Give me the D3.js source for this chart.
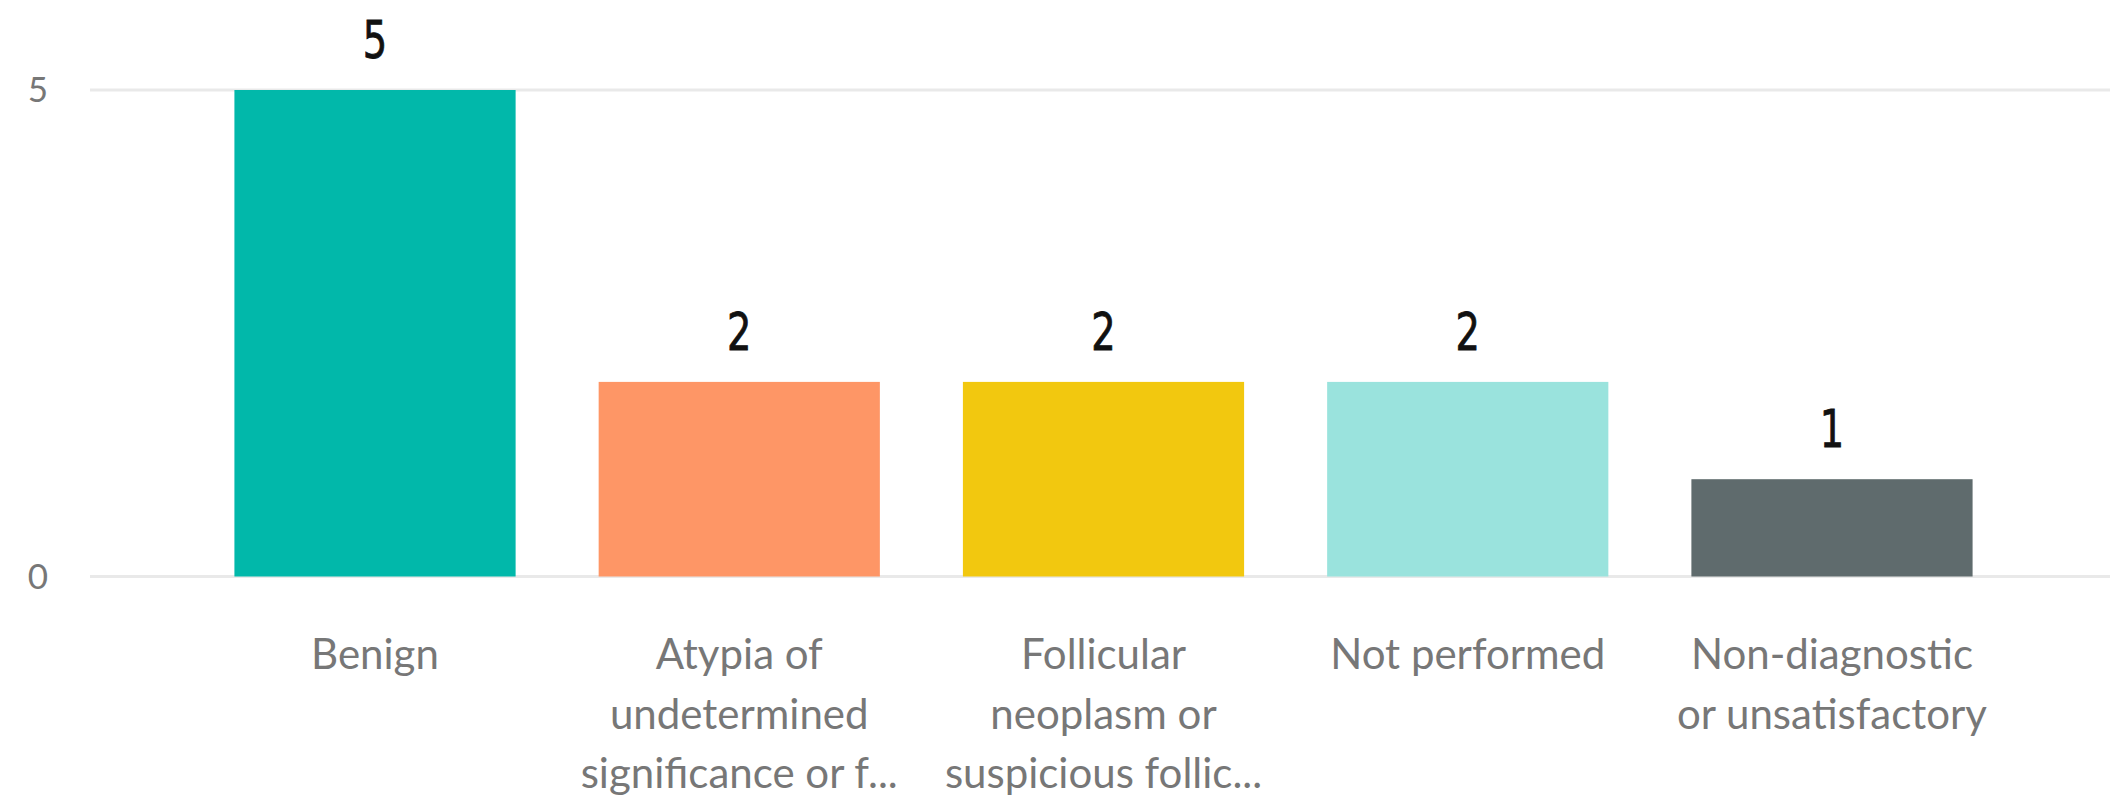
<!DOCTYPE html>
<html>
<head>
<meta charset="utf-8">
<script src="https://cdn.jsdelivr.net/npm/d3@7"></script>
<style>
    html, body { margin: 0; padding: 0; background: #fff; overflow: hidden; }
    .grid line { stroke: #e9e9e9; stroke-width: 3; }
    .ytick { font-family: "Segoe UI", Lato, sans-serif; font-size: 35px; fill: #777; }
    .xtick { font-family: "Segoe UI", Lato, sans-serif; font-size: 42px; fill: #777; }
    .vlabel { font-family: DIN, "Liberation Sans Narrow", "DejaVu Sans Condensed", sans-serif; font-size: 52px; fill: #111; stroke: #111; stroke-width: 0.8px; }
</style>
</head>
<body>
<script>
// chart data
var categories = ["Benign", "Atypia", "Follicular", "Not performed", "Non-diagnostic"];
var counts = [5, 2, 2, 2, 1];
var barColors = ["#01B8AA", "#FE9666", "#F2C80F", "#9AE3DD", "#5F6B6D"];
// axis label text as shown (wrapped / truncated)
var tickLines = [
    ["Benign"],
    ["Atypia of", "undetermined", "significance or f..."],
    ["Follicular", "neoplasm or", "suspicious follic..."],
    ["Not performed"],
    ["Non-diagnostic", "or unsatisfactory"]
];
var yTicks = [0, 5];

var W = 2110, H = 805;

var svg = d3.select("body").append("svg")
    .attr("width", W)
    .attr("height", H);

var x = d3.scaleBand()
    .domain(categories)
    .range([96, 2111])
    .paddingInner(0.228)
    .paddingOuter(0.38);

var y = d3.scaleLinear()
    .domain([0, 5])
    .range([576.5, 90]);

// gridlines
svg.append("g")
    .attr("class", "grid")
    .selectAll("line")
    .data(yTicks)
    .enter()
    .append("line")
    .attr("x1", 90)
    .attr("x2", W)
    .attr("y1", function (d) { return y(d); })
    .attr("y2", function (d) { return y(d); });

// y tick labels
svg.selectAll("text.ytick")
    .data(yTicks)
    .enter()
    .append("text")
    .attr("class", "ytick")
    .attr("x", 48)
    .attr("y", function (d) { return y(d); })
    .attr("dy", "0.35em")
    .attr("text-anchor", "end")
    .text(function (d) { return d; });

// bars
svg.selectAll("rect.bar")
    .data(counts)
    .enter()
    .append("rect")
    .attr("class", "bar")
    .attr("x", function (d, i) { return x(categories[i]); })
    .attr("width", x.bandwidth())
    .attr("y", function (d) { return y(d); })
    .attr("height", function (d) { return y(0) - y(d); })
    .attr("fill", function (d, i) { return barColors[i]; });

// value labels (narrowed to look like the condensed label font)
svg.selectAll("text.vlabel")
    .data(counts)
    .enter()
    .append("text")
    .attr("class", "vlabel")
    .attr("text-anchor", "middle")
    .attr("transform", function (d, i) {
        var cx = x(categories[i]) + x.bandwidth() / 2;
        return "translate(" + cx + "," + (y(d) - 32) + ") scale(0.82,1)";
    })
    .text(function (d) { return d; });

// category labels
var xt = svg.selectAll("text.xtick")
    .data(tickLines)
    .enter()
    .append("text")
    .attr("class", "xtick")
    .attr("text-anchor", "middle")
    .attr("x", function (d, i) { return x(categories[i]) + x.bandwidth() / 2; })
    .attr("y", 669);

xt.selectAll("tspan")
    .data(function (d) { return d; })
    .enter()
    .append("tspan")
    .attr("x", function () { return d3.select(this.parentNode).attr("x"); })
    .attr("y", function (d, j) { return 669 + j * 59.5; })
    .text(function (d) { return d; });
</script>
</body>
</html>
